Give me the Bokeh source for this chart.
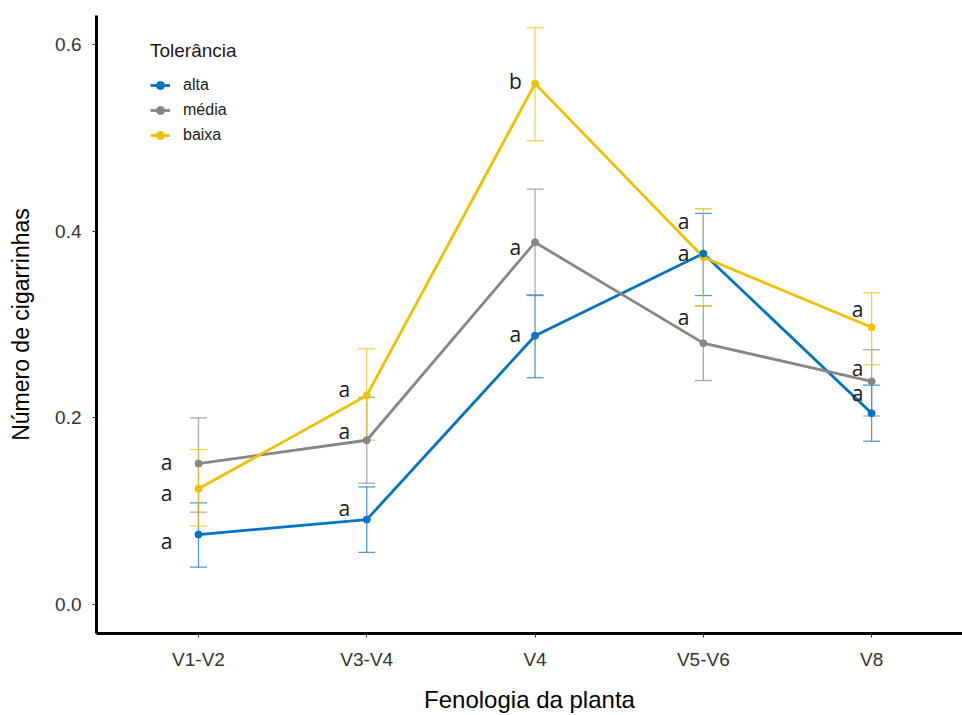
import numpy as np
from bokeh.plotting import figure
from bokeh.models import FixedTicker, Legend, LegendItem, ColumnDataSource, Range1d
from bokeh.core.properties import value
from bokeh.embed import file_html
from bokeh.resources import INLINE

# ---------------- data ----------------
stages = ["V1-V2", "V3-V4", "V4", "V5-V6", "V8"]
groups = ["alta", "média", "baixa"]
colors = ["#0073C2", "#868686", "#EFC000"]

alta_mean = [0.075, 0.091, 0.288, 0.376, 0.205]
alta_low = [0.040, 0.056, 0.243, 0.331, 0.175]
alta_high = [0.109, 0.126, 0.331, 0.419, 0.235]

media_mean = [0.151, 0.176, 0.388, 0.280, 0.239]
media_low = [0.099, 0.130, 0.332, 0.240, 0.202]
media_high = [0.200, 0.222, 0.445, 0.320, 0.273]

baixa_mean = [0.124, 0.224, 0.558, 0.372, 0.297]
baixa_low = [0.084, 0.176, 0.497, 0.320, 0.257]
baixa_high = [0.166, 0.274, 0.618, 0.424, 0.334]

alta_letters = ["a", "a", "a", "a", "a"]
media_letters = ["a", "a", "a", "a", "a"]
baixa_letters = ["a", "a", "b", "a", "a"]

# letter label positions (data units)
alta_label_y = [0.0686, 0.1039, 0.2893, 0.3771, 0.2271]
media_label_y = [0.1532, 0.1854, 0.3825, 0.3075, 0.2539]
baixa_label_y = [0.1200, 0.2304, 0.5604, 0.4104, 0.3171]
label_dx = [-0.19, -0.134, -0.117, -0.118, -0.083]

y_ticks = [0.0, 0.2, 0.4, 0.6]

series = [
    ("alta", alta_mean, alta_low, alta_high, alta_letters, alta_label_y),
    ("média", media_mean, media_low, media_high, media_letters, media_label_y),
    ("baixa", baixa_mean, baixa_low, baixa_high, baixa_letters, baixa_label_y),
]

xs = np.arange(len(stages))

# ---------------- figure ----------------
p = figure(width=962, height=715, output_backend="svg", toolbar_location=None,
           x_range=Range1d(-0.606, 4.54), y_range=Range1d(-0.031, 0.631),
           min_border_left=96, min_border_top=15, min_border_right=0,
           min_border_bottom=82)
p.background_fill_color = "white"
p.border_fill_color = "white"
p.outline_line_color = None
p.xgrid.visible = False
p.ygrid.visible = False

font = "Liberation Sans"
for ax in (p.xaxis[0], p.yaxis[0]):
    ax.axis_line_width = 3
    ax.axis_line_color = "black"
    ax.major_tick_line_color = "#333333"
    ax.major_tick_line_width = 1
    ax.major_tick_out = 4
    ax.major_tick_in = 0
    ax.minor_tick_line_color = None
    ax.major_label_text_font = font
    ax.major_label_text_font_size = "19px"
    ax.major_label_text_color = "#333333"
    ax.major_label_standoff = 11
    ax.axis_label_text_font = font
    ax.axis_label_text_font_style = "normal"
    ax.axis_label_text_color = "black"

p.xaxis.ticker = FixedTicker(ticks=list(xs))
p.xaxis.major_label_overrides = {int(i): s for i, s in zip(xs, stages)}
p.xaxis.axis_label = "Fenologia da planta"
p.xaxis.axis_label_text_font_size = "24px"
p.xaxis.axis_label_standoff = 13

p.yaxis.ticker = FixedTicker(ticks=y_ticks)
p.yaxis.major_label_overrides = {t: f"{t:.1f}" for t in y_ticks}
p.yaxis.axis_label = "Número de cigarrinhas"
p.yaxis.axis_label_text_font_size = "23px"
p.yaxis.axis_label_standoff = 18

# error bars
for (name, mean, low, high, letters, ly), c in zip(series, colors):
    src = ColumnDataSource(dict(x=xs, low=low, high=high))
    p.segment(x0="x", y0="low", x1="x", y1="high", source=src,
              line_color=c, line_width=1.3, line_alpha=0.7)
    p.scatter(x="x", y="low", source=src, marker="dash", size=17, angle=0,
              line_color=c, line_width=1.3, line_alpha=0.7)
    p.scatter(x="x", y="high", source=src, marker="dash", size=17, angle=0,
              line_color=c, line_width=1.3, line_alpha=0.7)

line_rs = {}
for (name, mean, low, high, letters, ly), c in zip(series, colors):
    src = ColumnDataSource(dict(x=xs, y=mean))
    line_rs[name] = p.line(x="x", y="y", source=src, line_color=c, line_width=2.8)

pt_rs = {}
for (name, mean, low, high, letters, ly), c in reversed(list(zip(series, colors))):
    src = ColumnDataSource(dict(x=xs, y=mean))
    pt_rs[name] = p.scatter(x="x", y="y", source=src, marker="circle", size=7,
                            fill_color=c, line_color=c)

# letters
for (name, mean, low, high, letters, ly) in series:
    src = ColumnDataSource(dict(x=xs + np.array(label_dx), y=ly, t=letters))
    p.text(x="x", y="y", text="t", source=src, text_align="center",
           text_baseline="middle", text_font=value("Open Sans"),
           text_font_size="21px", text_color="#1a1a1a")

legend = Legend(items=[LegendItem(label=g, renderers=[line_rs[g], pt_rs[g]]) for g in groups],
                location=(54, 488), title="Tolerância")
legend.title_text_font = font
legend.title_text_font_size = "19px"
legend.title_text_font_style = "normal"
legend.title_text_color = "#1a1a1a"
legend.title_standoff = 13
legend.label_text_font = font
legend.label_text_font_size = "16px"
legend.label_text_color = "#1a1a1a"
legend.glyph_width = 20
legend.glyph_height = 20
legend.label_height = 20
legend.label_standoff = 13
legend.spacing = 5
legend.padding = 0
legend.margin = 0
legend.border_line_color = None
legend.background_fill_alpha = 0
p.add_layout(legend, "center")

open("out.html", "w").write(file_html(p, INLINE))
